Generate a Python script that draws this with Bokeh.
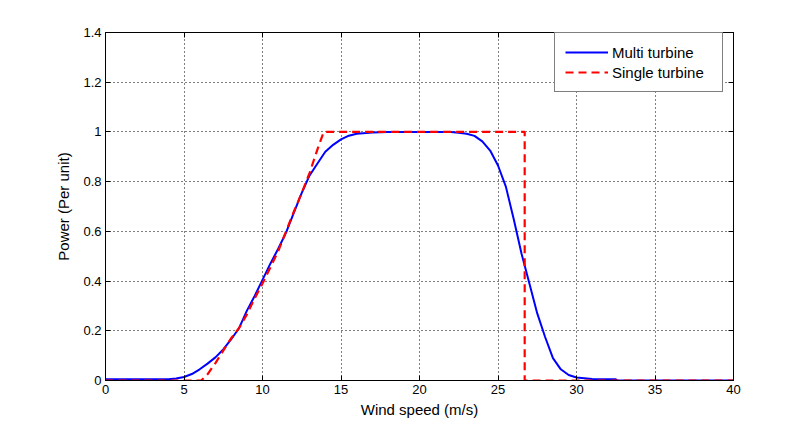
from bokeh.plotting import figure
from bokeh.models import LinearAxis, Range1d, FixedTicker, CustomJSTickFormatter, Legend, LegendItem
from bokeh.embed import file_html
from bokeh.resources import INLINE

# Multi turbine (blue, solid)
multi_x = [0, 1, 2, 3, 4, 4.5, 5, 5.5, 6, 6.5, 7, 7.5, 8, 8.5, 9, 9.5, 10, 10.5, 11, 11.5,
           12, 12.5, 13, 13.5, 14, 14.5, 15, 15.5, 16, 17, 18, 19, 20, 21, 22, 22.5, 23,
           23.5, 24, 24.5, 25, 25.5, 26, 26.5, 27, 27.5, 28, 28.5, 29, 29.5, 30, 31, 32,
           32.5, 32.6, 40]
multi_y = [0.005, 0.005, 0.005, 0.005, 0.005, 0.008, 0.014, 0.026, 0.045, 0.068, 0.093,
           0.125, 0.165, 0.21, 0.28, 0.34, 0.405, 0.47, 0.53, 0.595, 0.675, 0.755, 0.825,
           0.873, 0.92, 0.948, 0.97, 0.985, 0.993, 0.998, 1.0, 1.0, 1.0, 1.0, 1.0, 0.997,
           0.993, 0.984, 0.962, 0.925, 0.865, 0.78, 0.65, 0.51, 0.39, 0.27, 0.175, 0.09,
           0.045, 0.022, 0.012, 0.006, 0.005, 0.005, 0.0, 0.0]

# Single turbine (red, dashed)
single_x = [0, 6.1, 6.5, 7, 7.5, 8, 8.5, 9, 9.5, 10, 10.5, 11, 11.5, 12, 12.5, 13, 13.5,
            13.9, 26.7, 26.7, 40]
single_y = [0, 0, 0.025, 0.07, 0.12, 0.17, 0.21, 0.265, 0.33, 0.39, 0.455, 0.52, 0.6,
            0.68, 0.755, 0.835, 0.93, 1.0, 1.0, 0.0, 0.0]

x_ticks = [0, 5, 10, 15, 20, 25, 30, 35, 40]
y_ticks = [0, 0.2, 0.4, 0.6, 0.8, 1.0, 1.2, 1.4]

FONT = "Liberation Sans"

p = figure(width=809, height=427, output_backend="svg", toolbar_location=None,
           x_range=Range1d(0, 40), y_range=Range1d(0, 1.4),
           min_border_left=105, min_border_right=76, min_border_top=32, min_border_bottom=47,
           x_axis_label="Wind speed (m/s)", y_axis_label="Power (Per unit)")
p.background_fill_color = "white"
p.border_fill_color = "white"
p.outline_line_color = "black"
p.outline_line_width = 1
p.outline_line_alpha = 1

fmt = CustomJSTickFormatter(code="return tick.toFixed(1).replace(/\\.0$/, '');")
blank = CustomJSTickFormatter(code="return '';")

for ax in p.xaxis:
    ax.ticker = FixedTicker(ticks=x_ticks)
for ax in p.yaxis:
    ax.ticker = FixedTicker(ticks=y_ticks)
    ax.formatter = fmt

for ax in list(p.xaxis) + list(p.yaxis):
    ax.axis_line_color = "black"
    ax.major_tick_line_color = "black"
    ax.major_tick_in = 5
    ax.major_tick_out = 0
    ax.minor_tick_line_color = None
    ax.major_label_text_font = FONT
    ax.major_label_text_font_size = "13px"
    ax.major_label_text_color = "black"
    ax.axis_label_text_font = FONT
    ax.axis_label_text_font_size = "15px"
    ax.axis_label_text_font_style = "normal"
    ax.axis_label_text_color = "black"
    ax.major_label_standoff = 4

p.xaxis.axis_label_standoff = 4
p.yaxis.axis_label_standoff = 8

# top and right tick marks (MATLAB box)
top = LinearAxis(ticker=FixedTicker(ticks=x_ticks), formatter=blank,
                 major_tick_in=5, major_tick_out=0, minor_tick_line_color=None,
                 axis_line_color="black", major_label_standoff=0)
right = LinearAxis(ticker=FixedTicker(ticks=y_ticks), formatter=blank,
                   major_tick_in=5, major_tick_out=0, minor_tick_line_color=None,
                   axis_line_color="black", major_label_standoff=0)
p.add_layout(top, "above")
p.add_layout(right, "right")

p.xgrid.ticker = FixedTicker(ticks=x_ticks)
p.ygrid.ticker = FixedTicker(ticks=y_ticks)
for g in (p.xgrid, p.ygrid):
    g.grid_line_color = "black"
    g.grid_line_dash = "1 3"
    g.grid_line_width = 1
    g.grid_line_alpha = 1

r_multi = p.line(multi_x, multi_y, line_color="#0000ff", line_width=2)
r_single = p.line(single_x, single_y, line_color="#ff0000", line_width=2.2, line_dash="8 5")

legend = Legend(items=[LegendItem(label="Multi turbine", renderers=[r_multi]),
                       LegendItem(label="Single turbine", renderers=[r_single])])
legend.margin = 0
legend.location = (449, 288)
legend.border_line_color = "black"
legend.border_line_width = 1
legend.background_fill_color = "white"
legend.background_fill_alpha = 1
legend.label_text_font = FONT
legend.label_text_font_size = "15px"
legend.label_text_color = "black"
legend.glyph_width = 43
legend.label_standoff = 4
legend.padding = 10
legend.spacing = 2
legend.label_height = 18
legend.glyph_height = 18
legend.label_width = 100
p.add_layout(legend, "center")

open("out.html", "w").write(file_html(p, INLINE))
